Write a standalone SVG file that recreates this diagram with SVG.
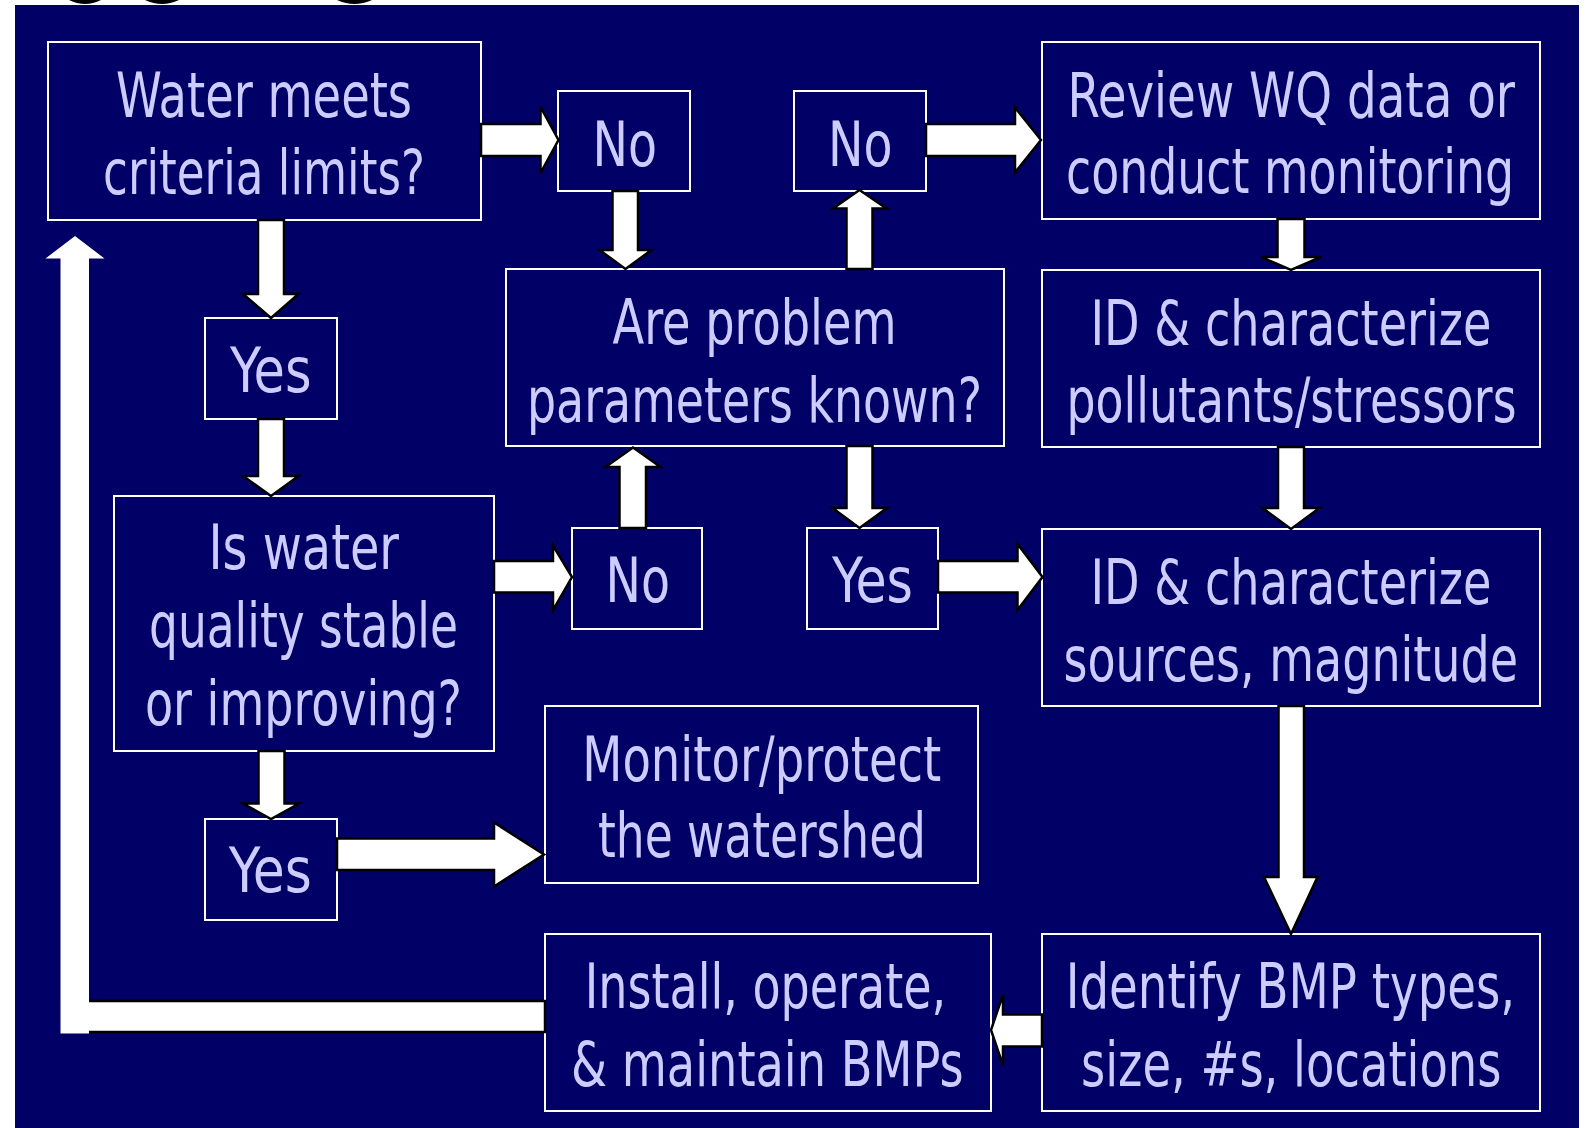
<svg xmlns="http://www.w3.org/2000/svg" width="1588" height="1128" viewBox="0 0 1588 1128">
  <style>
    .panel { fill: #000066; }
    .box { fill: #000066; stroke: #ffffff; stroke-width: 2; }
    .lbl { font-family: "DejaVu Sans", "Liberation Sans", sans-serif; font-stretch: condensed; font-size: 63px; fill: #ccccff; }
    .arrow { fill: #ffffff; stroke: #000000; stroke-width: 2.5; stroke-linejoin: miter; }
    .loop { fill: #ffffff; stroke: none; }
    .frag { fill: #000000; }
  </style>

  <!-- page and slide panel -->
  <rect x="0" y="0" width="1588" height="1128" fill="#ffffff"/>
  <rect class="panel" x="15" y="5" width="1564" height="1123"/>

  <!-- lower edges of the heading glyphs, clipped by the top of the page -->
  <g id="heading-fragments">
    <path class="frag" d="M69,0 Q85,8 101,0 Z"/>
    <path class="frag" d="M145,0 Q162,8 179,0 Z"/>
    <path class="frag" d="M337,0 Q354.5,8 372,0 Z"/>
  </g>

  <!-- nodes -->
  <g id="node-criteria">
    <rect class="box" x="48" y="42" width="433" height="178"/>
    <text class="lbl" x="116" y="116.7" textLength="296" lengthAdjust="spacingAndGlyphs">Water meets</text>
    <text class="lbl" x="103" y="194.3" textLength="322" lengthAdjust="spacingAndGlyphs">criteria limits?</text>
  </g>

  <g id="node-no-1">
    <rect class="box" x="558" y="91" width="132" height="100"/>
    <text class="lbl" x="592.5" y="166" textLength="64.5" lengthAdjust="spacingAndGlyphs">No</text>
  </g>

  <g id="node-no-2">
    <rect class="box" x="794" y="91" width="132" height="100"/>
    <text class="lbl" x="828" y="166" textLength="64.5" lengthAdjust="spacingAndGlyphs">No</text>
  </g>

  <g id="node-review">
    <rect class="box" x="1042" y="42" width="498" height="177"/>
    <text class="lbl" x="1067.5" y="117" textLength="447.5" lengthAdjust="spacingAndGlyphs">Review WQ data or</text>
    <text class="lbl" x="1066" y="193" textLength="448" lengthAdjust="spacingAndGlyphs">conduct monitoring</text>
  </g>

  <g id="node-yes-1">
    <rect class="box" x="205" y="318" width="132" height="101"/>
    <text class="lbl" x="230" y="391.7" textLength="81.5" lengthAdjust="spacingAndGlyphs">Yes</text>
  </g>

  <g id="node-parameters">
    <rect class="box" x="506" y="269" width="498" height="177"/>
    <text class="lbl" x="612.5" y="344" textLength="284" lengthAdjust="spacingAndGlyphs">Are problem</text>
    <text class="lbl" x="527" y="421.5" textLength="455" lengthAdjust="spacingAndGlyphs">parameters known?</text>
  </g>

  <g id="node-pollutants">
    <rect class="box" x="1042" y="270" width="498" height="177"/>
    <text class="lbl" x="1090.5" y="344.5" textLength="401" lengthAdjust="spacingAndGlyphs">ID &amp; characterize</text>
    <text class="lbl" x="1066.5" y="421.5" textLength="450" lengthAdjust="spacingAndGlyphs">pollutants/stressors</text>
  </g>

  <g id="node-stable">
    <rect class="box" x="114" y="496" width="380" height="255"/>
    <text class="lbl" x="208.5" y="569.3" textLength="190.5" lengthAdjust="spacingAndGlyphs">Is water</text>
    <text class="lbl" x="149" y="646.9" textLength="309" lengthAdjust="spacingAndGlyphs">quality stable</text>
    <text class="lbl" x="145" y="724.5" textLength="317" lengthAdjust="spacingAndGlyphs">or improving?</text>
  </g>

  <g id="node-no-3">
    <rect class="box" x="572" y="528" width="130" height="101"/>
    <text class="lbl" x="605.5" y="601.7" textLength="64.5" lengthAdjust="spacingAndGlyphs">No</text>
  </g>

  <g id="node-yes-2">
    <rect class="box" x="807" y="528" width="131" height="101"/>
    <text class="lbl" x="832" y="601.7" textLength="81" lengthAdjust="spacingAndGlyphs">Yes</text>
  </g>

  <g id="node-sources">
    <rect class="box" x="1042" y="529" width="498" height="177"/>
    <text class="lbl" x="1090.5" y="603.7" textLength="401" lengthAdjust="spacingAndGlyphs">ID &amp; characterize</text>
    <text class="lbl" x="1063.5" y="681.3" textLength="454.5" lengthAdjust="spacingAndGlyphs">sources, magnitude</text>
  </g>

  <g id="node-protect">
    <rect class="box" x="545" y="706" width="433" height="177"/>
    <text class="lbl" x="582.3" y="780.5" textLength="359" lengthAdjust="spacingAndGlyphs">Monitor/protect</text>
    <text class="lbl" x="598" y="857" textLength="328" lengthAdjust="spacingAndGlyphs">the watershed</text>
  </g>

  <g id="node-yes-3">
    <rect class="box" x="205" y="819" width="132" height="101"/>
    <text class="lbl" x="228.7" y="891.7" textLength="83" lengthAdjust="spacingAndGlyphs">Yes</text>
  </g>

  <g id="node-install">
    <rect class="box" x="545" y="934" width="446" height="177"/>
    <text class="lbl" x="584.7" y="1008.3" textLength="361.5" lengthAdjust="spacingAndGlyphs">Install, operate,</text>
    <text class="lbl" x="571" y="1085.5" textLength="392.5" lengthAdjust="spacingAndGlyphs">&amp; maintain BMPs</text>
  </g>

  <g id="node-identify">
    <rect class="box" x="1042" y="934" width="498" height="177"/>
    <text class="lbl" x="1065.7" y="1008.3" textLength="449.5" lengthAdjust="spacingAndGlyphs">Identify BMP types,</text>
    <text class="lbl" x="1081" y="1085.5" textLength="420.5" lengthAdjust="spacingAndGlyphs">size, #s, locations</text>
  </g>

  <!-- connectors: block arrows -->
  <g id="connectors">
    <!-- criteria -> No -->
    <polygon class="arrow" points="481,124 540.5,124 540.5,107 558.5,140 540.5,173 540.5,156 481,156"/>
    <!-- No -> review -->
    <polygon class="arrow" points="926,124 1015,124 1015,107.5 1041,140 1015,172.5 1015,156 926,156"/>
    <!-- No -> parameters -->
    <polygon class="arrow" points="612.5,191 638,191 638,250 651.5,250 625.5,269 599.5,250 612.5,250"/>
    <!-- parameters -> No -->
    <polygon class="arrow" points="846.5,269 872.5,269 872.5,208.5 886.5,208.5 859.5,190 833,208.5 846.5,208.5"/>
    <!-- review -> pollutants -->
    <polygon class="arrow" points="1277.5,219 1304.5,219 1304.5,257 1321,257 1291,270 1261,257 1277.5,257"/>
    <!-- pollutants -> sources -->
    <polygon class="arrow" points="1278,447 1304,447 1304,508 1319.5,508 1291,529 1262.5,508 1278,508"/>
    <!-- criteria -> Yes -->
    <polygon class="arrow" points="258,220 284,220 284,294 298.5,294 271,318 243,294 258,294"/>
    <!-- Yes -> stable -->
    <polygon class="arrow" points="258,419 284,419 284,476 298.5,476 271,496 243,476 258,476"/>
    <!-- stable -> No -->
    <polygon class="arrow" points="494,561 553,561 553,545.5 572,577 553,610 553,592.5 494,592.5"/>
    <!-- No -> parameters -->
    <polygon class="arrow" points="619.5,528 646,528 646,467 660.5,467 633,447.5 605.5,467 619.5,467"/>
    <!-- parameters -> Yes -->
    <polygon class="arrow" points="846.5,446 872.5,446 872.5,508 887,508 859.5,528 832.5,508 846.5,508"/>
    <!-- Yes -> sources -->
    <polygon class="arrow" points="938,561 1017.5,561 1017.5,544 1042.5,577 1017.5,610 1017.5,592.5 938,592.5"/>
    <!-- stable -> Yes -->
    <polygon class="arrow" points="258.5,751 284.5,751 284.5,803.5 299,803.5 271,819 243,803.5 258.5,803.5"/>
    <!-- Yes -> protect -->
    <polygon class="arrow" points="337,838.5 494,838.5 494,822.5 544,854.5 494,886.5 494,870 337,870"/>
    <!-- sources -> identify -->
    <polygon class="arrow" points="1278.5,706 1304,706 1304,877 1317.5,877 1291,934 1264,877 1278.5,877"/>
    <!-- identify -> install -->
    <polygon class="arrow" points="1042,1014.5 1003,1014.5 1003,994.5 991,1030 1003,1065.5 1003,1046.5 1042,1046.5"/>
    <!-- install -> back to criteria (loop) -->
    <rect class="arrow" x="62" y="1001" width="483" height="31"/>
    <polygon class="loop" points="60.5,1033.5 89,1033.5 89,258.5 104.5,258.5 75,236 45.5,258.5 60.5,258.5"/>
  </g>
</svg>
